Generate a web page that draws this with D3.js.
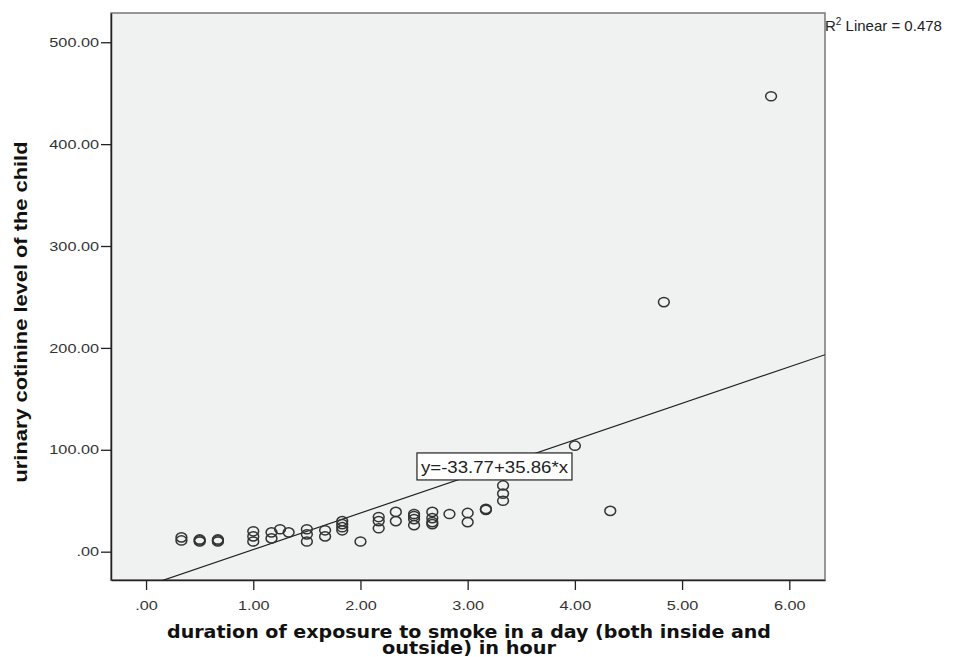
<!DOCTYPE html>
<html>
<head>
<meta charset="utf-8">
<script src="https://cdn.jsdelivr.net/npm/d3@7"></script>
<style>
  html, body { margin: 0; padding: 0; background: #ffffff; }
  svg { display: block; }
</style>
</head>
<body>
<svg id="chart" width="956" height="657"></svg>
<script>
// ---- data ----
const xValues = [0.33,0.33, 0.5,0.5,0.5, 0.67,0.67,0.67, 1.0,1.0,1.0, 1.17,1.17, 1.25, 1.33,
  1.5,1.5,1.5, 1.67,1.67, 1.83,1.83,1.83,1.83, 2.0, 2.17,2.17,2.17, 2.33,2.33,
  2.5,2.5,2.5,2.5, 2.67,2.67,2.67,2.67, 2.83, 3.0,3.0, 3.17,3.17, 3.33,3.33,3.33,
  4.0, 4.33, 4.83, 5.83];
const yValues = [14,11, 12,11,10, 12,11,10, 20,15,10, 19,13, 22, 19,
  22,17,10, 21,15, 30,27,24,21, 10, 34,30,23, 39,30,
  37,35,32,26, 39,33,29,27, 37, 38,29, 42,41, 65,57,50,
  104, 40, 245, 447];
const xTicks = [0,1,2,3,4,5,6];
const yTicks = [0,100,200,300,400,500];
const intercept = -33.77;
const slope = 35.86;
const rSquared = 0.478;
const xTitle = ["duration of exposure to smoke in a day (both inside and", "outside) in hour"];
const yTitle = "urinary cotinine level of the child";

// ---- layout ----
const plot = {left: 111, top: 13, right: 825, bottom: 580};
const svg = d3.select("#chart");

const x = d3.scaleLinear().domain([-0.327, 6.333]).range([plot.left, plot.right]);
const y = d3.scaleLinear().domain([-27.8, 528.7]).range([plot.bottom, plot.top]);

const fmt = v => { const s = d3.format(".2f")(v); return s.startsWith("0.") ? s.slice(1) : s; };
const sans = "'Liberation Sans', Arial, sans-serif";

svg.append("rect")
  .attr("x", plot.left).attr("y", plot.top)
  .attr("width", plot.right - plot.left).attr("height", plot.bottom - plot.top)
  .attr("fill", "#f0f1f1").attr("stroke", "#777").attr("stroke-width", 1.5);

svg.append("defs").append("clipPath").attr("id", "clip")
  .append("rect")
  .attr("x", plot.left).attr("y", plot.top)
  .attr("width", plot.right - plot.left).attr("height", plot.bottom - plot.top);

// axes
const xAxis = svg.append("g").attr("transform", `translate(0,${plot.bottom})`)
  .call(d3.axisBottom(x).tickValues(xTicks).tickFormat(fmt).tickSize(10).tickSizeOuter(0));
const yAxis = svg.append("g").attr("transform", `translate(${plot.left},0)`)
  .call(d3.axisLeft(y).tickValues(yTicks).tickFormat(fmt).tickSize(10).tickSizeOuter(0));
[xAxis, yAxis].forEach(g => {
  g.select(".domain").attr("stroke", "#222").attr("stroke-width", 1.5);
  g.selectAll(".tick line").attr("stroke", "#222").attr("stroke-width", 1.3);
  g.selectAll(".tick text").attr("fill", "#333")
    .style("font-family", sans).style("font-size", "13px");
});
xAxis.selectAll(".tick text").attr("y", 0).attr("dy", 0)
  .attr("transform", "translate(0,30) scale(1.25,1)");
yAxis.selectAll(".tick text").attr("x", 0)
  .attr("transform", "translate(-12,0) scale(1.25,1)");

// regression line
const xd = x.domain();
svg.append("line")
  .attr("clip-path", "url(#clip)")
  .attr("x1", x(xd[0])).attr("y1", y(intercept + slope * xd[0]))
  .attr("x2", x(xd[1])).attr("y2", y(intercept + slope * xd[1]))
  .attr("stroke", "#222").attr("stroke-width", 1.2);

// points
const pts = xValues.map((v, i) => ({x: v, y: yValues[i]}));
svg.append("g").selectAll("ellipse").data(pts).join("ellipse")
  .attr("cx", d => x(d.x)).attr("cy", d => y(d.y))
  .attr("rx", 5.4).attr("ry", 4.6)
  .attr("fill", "none").attr("stroke", "#333").attr("stroke-width", 1.5);

// equation box
const eqText = `y=${intercept.toFixed(2)}+${slope.toFixed(2)}*x`;
const eqG = svg.append("g").attr("transform", `translate(${x(2.527)},${y(96.9)})`);
eqG.append("rect").attr("width", 155).attr("height", 27)
  .attr("fill", "#fff").attr("stroke", "#222").attr("stroke-width", 1.2);
eqG.append("text").attr("x", 4).attr("y", 20)
  .attr("textLength", 147).attr("lengthAdjust", "spacingAndGlyphs")
  .style("font-family", sans).style("font-size", "17px")
  .attr("fill", "#222").text(eqText);

// R2 label
const r2 = svg.append("text").attr("x", 825).attr("y", 31)
  .style("font-family", sans).style("font-size", "15px").attr("fill", "#222");
r2.append("tspan").text("R");
r2.append("tspan").attr("dy", -6).style("font-size", "10px").text("2");
r2.append("tspan").attr("dy", 6).text(` Linear = ${rSquared}`);

// axis titles
const xt = svg.append("text").attr("text-anchor", "middle")
  .style("font-family", "'DejaVu Sans', Verdana, sans-serif").style("font-weight", "bold")
  .style("font-size", "17px").attr("fill", "#111");
const xLens = [604, 174];
xTitle.forEach((t, i) => xt.append("tspan").attr("x", 469).attr("y", 638 + i * 16)
  .attr("textLength", xLens[i]).attr("lengthAdjust", "spacingAndGlyphs").text(t));

svg.append("text").attr("text-anchor", "middle")
  .attr("transform", "translate(27,312) rotate(-90)")
  .attr("textLength", 341).attr("lengthAdjust", "spacingAndGlyphs")
  .style("font-family", sans).style("font-weight", "bold")
  .style("font-size", "19px").attr("fill", "#111").text(yTitle);
</script>
</body>
</html>
